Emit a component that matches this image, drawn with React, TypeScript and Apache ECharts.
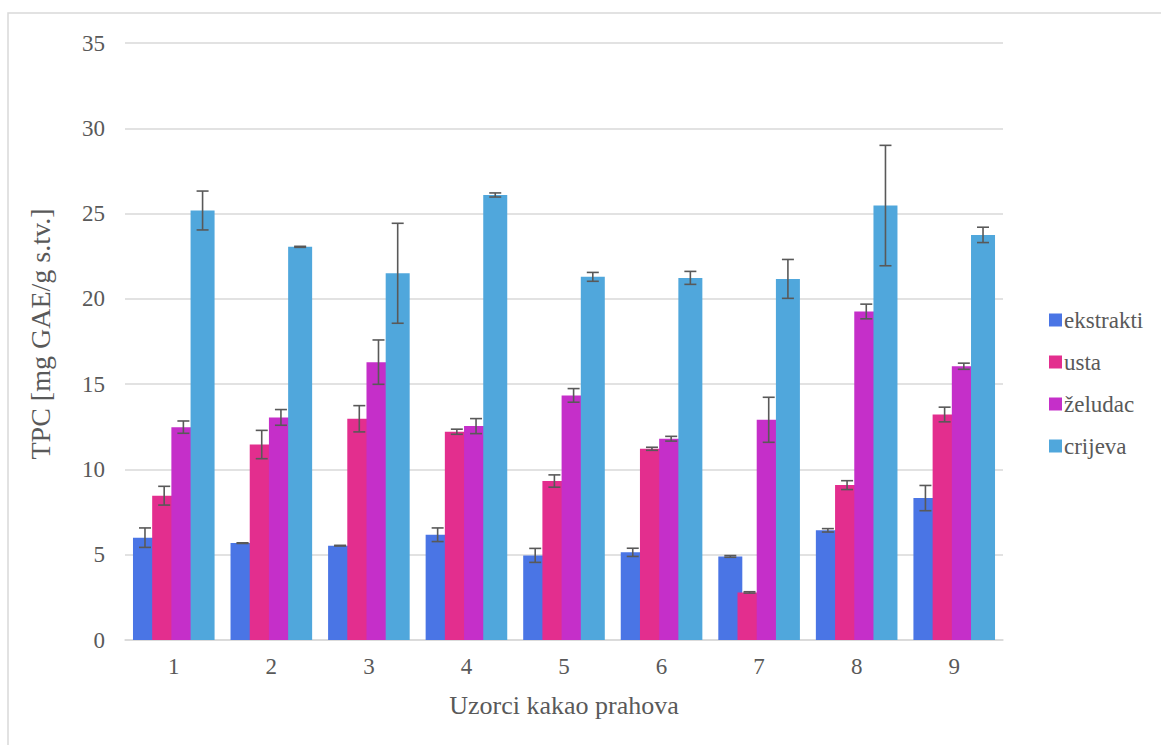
import React, { useEffect, useRef } from "react";
import * as echarts from "echarts";

const categories = ["1", "2", "3", "4", "5", "6", "7", "8", "9"];
const seriesNames = ["ekstrakti", "usta", "želudac", "crijeva"];
const colors = ["#4a75e5", "#e32e8e", "#c52fc9", "#50a7dc"];
const yTitle = "TPC [mg GAE/g s.tv.]";
const xTitle = "Uzorci kakao prahova";

const ekstrakti = [6.0, 5.68, 5.53, 6.17, 4.96, 5.14, 4.9, 6.43, 8.32];
const ekstraktiErr = [0.57, 0.02, 0.02, 0.4, 0.41, 0.24, 0.05, 0.1, 0.74];
const usta = [8.46, 11.46, 12.97, 12.21, 9.32, 11.21, 2.79, 9.08, 13.22];
const ustaErr = [0.55, 0.83, 0.77, 0.15, 0.36, 0.09, 0.04, 0.26, 0.43];
const zeludac = [12.48, 13.05, 16.29, 12.54, 14.34, 11.8, 12.91, 19.26, 16.05];
const zeludacErr = [0.36, 0.46, 1.3, 0.44, 0.4, 0.14, 1.32, 0.43, 0.18];
const crijeva = [25.18, 23.05, 21.5, 26.09, 21.29, 21.23, 21.17, 25.47, 23.75];
const crijevaErr = [1.14, 0.03, 2.93, 0.12, 0.26, 0.38, 1.14, 3.53, 0.45];

const values = [ekstrakti, usta, zeludac, crijeva];
const errors = [ekstraktiErr, ustaErr, zeludacErr, crijevaErr];

const FONT = '"Liberation Serif", "Times New Roman", serif';
const TEXT = "#595959";
const GRID = "#d9d9d9";
const BAR_W = 24;
const STEP = BAR_W * 0.8;
const offsets = [0, 1, 2, 3].map((i) => -1.5 * STEP + i * STEP);

export default function App() {
  const ref = useRef<HTMLDivElement>(null);
  useEffect(() => {
    if (!ref.current) return;
    const chart = echarts.init(ref.current, undefined, { renderer: "svg" });

    const barSeries = seriesNames.map((name, si) => ({
      type: "bar",
      name,
      data: values[si],
      barWidth: BAR_W,
      barGap: "-20%",
      itemStyle: { color: colors[si] },
      z: 2,
    }));

    const errSeries = seriesNames.map((_, si) => ({
      type: "custom",
      z: 10,
      silent: true,
      encode: { x: 0, y: 1 },
      data: values[si].map((v, i) => [i, v, errors[si][i]]),
      renderItem: (params: any, api: any) => {
        const idx = api.value(0);
        const mean = api.value(1);
        const err = api.value(2);
        const top = api.coord([idx, mean + err]);
        const bot = api.coord([idx, mean - err]);
        const x = top[0] + offsets[si];
        const half = 6;
        const style = { stroke: "#595959", lineWidth: 1.6 };
        return {
          type: "group",
          children: [
            { type: "line", shape: { x1: x, y1: top[1], x2: x, y2: bot[1] }, style },
            { type: "line", shape: { x1: x - half, y1: top[1], x2: x + half, y2: top[1] }, style },
            { type: "line", shape: { x1: x - half, y1: bot[1], x2: x + half, y2: bot[1] }, style },
          ],
        };
      },
    }));

    chart.setOption({
      animation: false,
      backgroundColor: "#ffffff",
      textStyle: { fontFamily: FONT, color: TEXT },
      graphic: [
        {
          type: "rect",
          shape: { x: 8, y: 13, width: 1200, height: 800 },
          style: { fill: "none", stroke: GRID, lineWidth: 1.5 },
          silent: true,
          z: -1,
        },
        {
          type: "text",
          x: 40,
          y: 334,
          rotation: Math.PI / 2,
          silent: true,
          style: {
            text: yTitle,
            fontFamily: FONT,
            fontSize: 28,
            fill: TEXT,
            align: "center",
            verticalAlign: "middle",
          },
        },
      ],
      grid: { left: 125, right: 158, top: 43, bottom: 105, containLabel: false },
      legend: {
        data: seriesNames,
        orient: "vertical",
        left: 1044,
        top: 303,
        itemWidth: 13,
        itemHeight: 13,
        itemGap: 18,
        icon: "rect",
        textStyle: { fontFamily: FONT, color: TEXT, fontSize: 23, lineHeight: 24, padding: [0, 0, 0, -3] },
      },
      xAxis: {
        type: "category",
        data: categories,
        name: xTitle,
        nameLocation: "middle",
        nameGap: 52,
        nameTextStyle: { fontFamily: FONT, color: TEXT, fontSize: 26 },
        axisLine: { show: true, lineStyle: { color: GRID, width: 1.5 } },
        axisTick: { show: false },
        axisLabel: { fontFamily: FONT, color: TEXT, fontSize: 23, margin: 15 },
      },
      yAxis: {
        type: "value",
        min: 0,
        max: 35,
        interval: 5,
        axisLine: { show: false },
        axisTick: { show: false },
        axisLabel: { fontFamily: FONT, color: TEXT, fontSize: 23, margin: 20 },
        splitLine: { lineStyle: { color: GRID, width: 1.5 } },
      },
      series: [...barSeries, ...errSeries],
    });

    return () => chart.dispose();
  }, []);

  return (
    <div
      ref={ref}
      style={{ position: "fixed", left: 0, top: 0, width: 1161, height: 745, background: "#fff" }}
    />
  );
}
